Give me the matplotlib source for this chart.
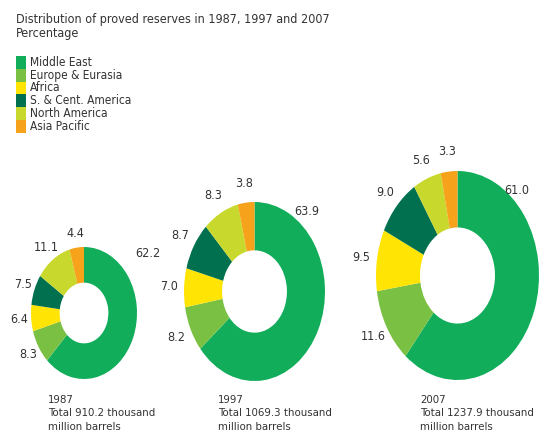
import numpy as np
import matplotlib

matplotlib.use("Agg")
import matplotlib.pyplot as plt
from matplotlib.patches import Rectangle

plt.rcParams["font.family"] = ["DejaVu Sans"]
plt.rcParams["font.stretch"] = "condensed"

regions = ["Middle East", "Europe & Eurasia", "Africa", "S. & Cent. America", "North America", "Asia Pacific"]
colors = ["#11AD5B", "#7AC143", "#FFE404", "#00704F", "#C9D82C", "#F7A21B"]

years = ["1987", "1997", "2007"]
totals = ["910.2", "1069.3", "1237.9"]
share_1987 = [62.2, 8.3, 6.4, 7.5, 11.1, 4.4]
share_1997 = [63.9, 8.2, 7.0, 8.7, 8.3, 3.8]
share_2007 = [61.0, 11.6, 9.5, 9.0, 5.6, 3.3]
shares = [share_1987, share_1997, share_2007]

W, H = 551, 443
# donut boxes in pixels: x0, x1, y_top, y_bottom
boxes = [(31, 137, 247, 379), (184, 325, 202, 381), (376, 539, 171, 380)]
# big Middle East label (angle deg from +x, radius), radius of small labels
me_label = [(37, 1.5), (50, 1.16), (48, 1.09)]
small_r = [1.22, 1.22, 1.19]
caption_x = [48, 218, 420]
TXT = "#333333"

fig = plt.figure(figsize=(W / 100, H / 100), dpi=100)
fig.patch.set_facecolor("white")

fig.text(16 / W, 1 - 20 / H, "Distribution of proved reserves in 1987, 1997 and 2007",
         fontsize=9, color=TXT, va="center", ha="left")
fig.text(16 / W, 1 - 34 / H, "Percentage", fontsize=9, color=TXT, va="center", ha="left")

# legend: stacked colour strip with labels
row_h = 12.8
for i, (name, c) in enumerate(zip(regions, colors)):
    y_top = 56 + i * row_h
    fig.patches.append(Rectangle((16 / W, 1 - (y_top + row_h) / H), 10 / W, row_h / H,
                                 transform=fig.transFigure, facecolor=c, edgecolor="none"))
    fig.text(30 / W, 1 - (y_top + row_h / 2) / H, name, fontsize=8.6, color=TXT, va="center", ha="left")

for k, ((x0, x1, yt, yb), vals) in enumerate(zip(boxes, shares)):
    ax = fig.add_axes([x0 / W, 1 - yb / H, (x1 - x0) / W, (yb - yt) / H])
    wedges, _ = ax.pie(vals, colors=colors, startangle=90, counterclock=False,
                       wedgeprops=dict(width=0.54, linewidth=0))
    ax.set_aspect("auto")
    ax.set_xlim(-1, 1)
    ax.set_ylim(-1, 1)
    ax.axis("off")

    for j, (w, v) in enumerate(zip(wedges, vals)):
        if j == 0:
            ang, r = np.deg2rad(me_label[k][0]), me_label[k][1]
        else:
            ang, r = np.deg2rad((w.theta1 + w.theta2) / 2), small_r[k]
        ax.text(r * np.cos(ang), r * np.sin(ang), f"{v:.1f}", fontsize=9, color=TXT,
                ha="center", va="center", clip_on=False)

    lx = caption_x[k] / W
    fig.text(lx, 1 - 400 / H, years[k], fontsize=8.2, color=TXT, va="center", ha="left")
    fig.text(lx, 1 - 413.5 / H, f"Total {totals[k]} thousand", fontsize=8.2, color=TXT, va="center", ha="left")
    fig.text(lx, 1 - 427 / H, "million barrels", fontsize=8.2, color=TXT, va="center", ha="left")

fig.savefig("out.png", dpi=100, facecolor="white")
